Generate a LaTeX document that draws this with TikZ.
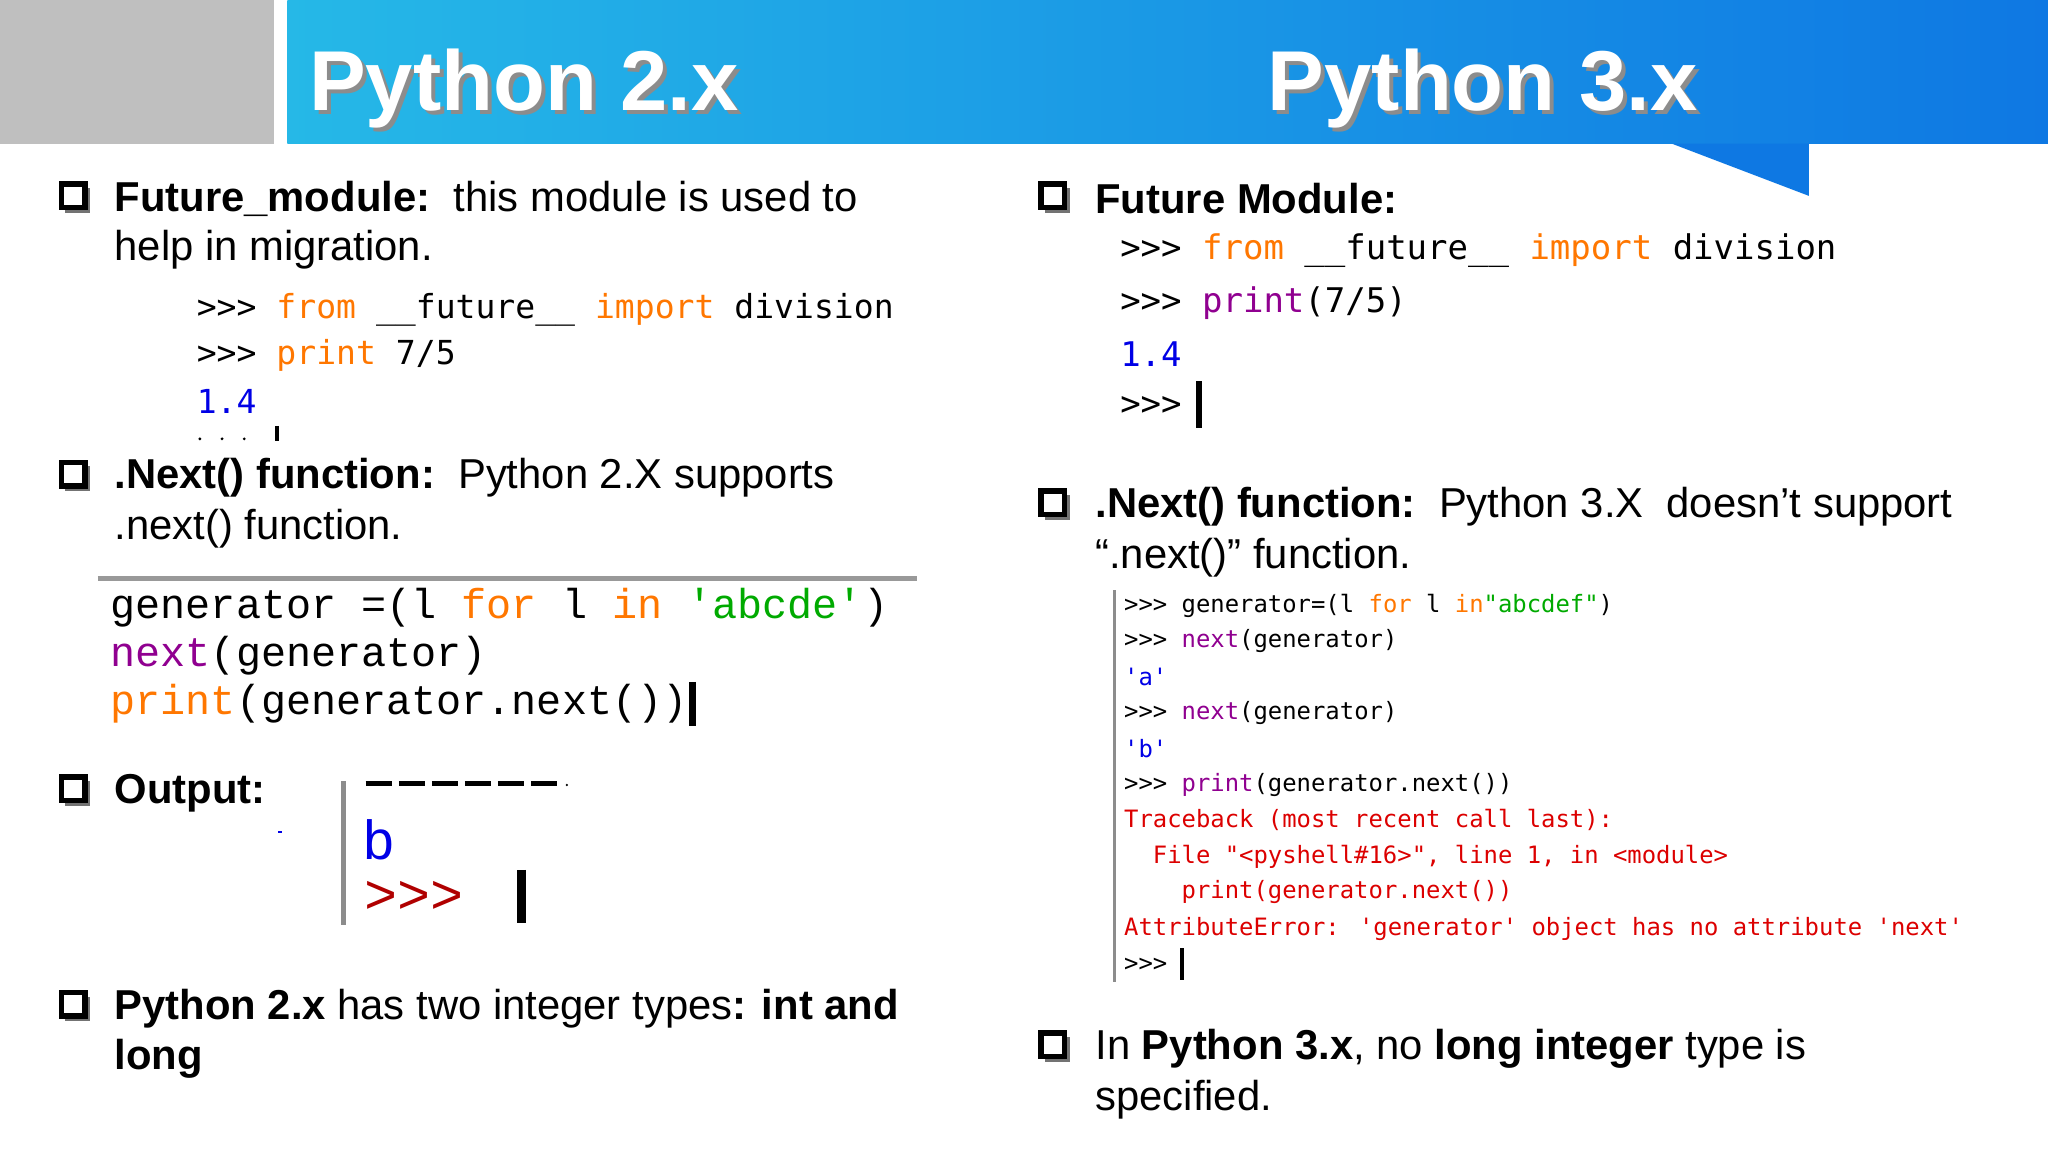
\documentclass[tikz,border=0pt]{standalone}
\usepackage{fontspec}
\setmainfont{Liberation Sans}
\setmonofont{Liberation Mono}
\newfontfamily\dvm{DejaVu Sans Mono}
\begin{document}
\begin{tikzpicture}[x=0.01cm,y=-0.01cm,
  body/.style={anchor=west,inner sep=0,font=\fontsize{9.1pt}{10pt}\selectfont},
  code/.style={anchor=west,inner sep=0,font=\dvm\fontsize{7.2pt}{8pt}\selectfont},
  bigcode/.style={anchor=west,inner sep=0,font=\ttfamily\fontsize{9.1pt}{10pt}\selectfont},
  sm/.style={anchor=west,inner sep=0,font=\dvm\fontsize{5.2pt}{6pt}\selectfont},
  title/.style={anchor=west,inner sep=0,text=white,font=\bfseries\fontsize{18.5pt}{20pt}\selectfont},
  shadowt/.style={anchor=west,inner sep=0,text=black!45,font=\bfseries\fontsize{18.5pt}{20pt}\selectfont},
  vline/.style={draw=black!45,line width=1pt}]
\definecolor{kw}{RGB}{255,119,0}
\definecolor{pr}{RGB}{144,0,144}
\definecolor{ob}{RGB}{0,0,230}
\definecolor{gs}{RGB}{0,170,0}
\definecolor{er}{RGB}{220,0,0}
\definecolor{hb}{RGB}{18,150,220}
\useasboundingbox (0,0) rectangle (1568,882);
\fill[white] (0,0) rectangle (1568,882);
\fill[black!25] (0,0) rectangle (210,110);
\shade[left color=hb!75!cyan!90!white, right color=hb!80!blue] (220,0) rectangle (1568,110);
\fill[hb!80!blue] (1280,110) -- (1385,150) -- (1385,110) -- cycle;
\node[shadowt] at (239,71) {Python 2.x};
\node[title] (t2) at (236,68) {Python 2.x};
\node[shadowt] at (973,71) {Python 3.x};
\node[title] (t3) at (970,68) {Python 3.x};
% bullets
\foreach \n/\x/\y in {b1/57/151,b2/57/364,b3/57/605,b4/57/770,b5/807/151,b6/807/386,b7/807/801}{
  \fill[black!55] (\x-7,\y-7) rectangle (\x+12,\y+12);
  \draw[fill=white,line width=1.2pt] (\x-10,\y-10) rectangle (\x+8,\y+8);
  \coordinate (\n) at (\x,\y);}
% left column
\node[body] (l1) at (87,152) {\textbf{Future\_module:}\ \ this module is used to};
\node[body] (l2) at (87,191) {help in migration.};
\node[code] (c1) at (150,237) {\textcolor{black}{>>>} \textcolor{kw}{from} \_\_future\_\_ \textcolor{kw}{import} division};
\node[code] (c2) at (150,272) {>>> \textcolor{kw}{print} 7/5};
\node[code,text=ob] (c3) at (150,307) {1.4};
\foreach \xx in {153,170,187}{\fill (\xx,336) circle (1.2);}
\draw[line width=1pt] (212,326) -- (212,338);
\node[body] (l3) at (87,366) {\textbf{.Next() function:}\ \ Python 2.X supports};
\node[body] (l4) at (87,405) {.next() function.};
\draw[black!40,line width=1pt] (75,443) -- (702,443);
\node[bigcode] (g1) at (84,465) {generator =(l \textcolor{kw}{for} l \textcolor{kw}{in} \textcolor{gs}{'abcde'})};
\node[bigcode] (g2) at (84,502) {\textcolor{pr}{next}(generator)};
\node[bigcode] (g3) at (84,539) {\textcolor{kw}{print}(generator.next())};
\draw[line width=1.5pt] (530,522) -- (530,556);
\node[body] (l5) at (87,607) {\textbf{Output:}};
\draw[vline] (263,598) -- (263,708);
\draw[line width=1.2pt,dash pattern=on 5.7pt off 1.5pt] (280,600) -- (430,600);
\fill (434,601) circle (1);
\node[anchor=west,inner sep=0,text=ob,font=\ttfamily\fontsize{12pt}{12pt}\selectfont] (o2) at (277,643) {b};
\node[anchor=west,inner sep=0,text=er!80!black,font=\ttfamily\fontsize{12pt}{12pt}\selectfont] (o3) at (278,687) {>>>};
\draw[line width=2pt] (399,666) -- (399,707);
\fill[ob] (213,636) rectangle (216,638);
\node[body] (l6) at (87,772) {\textbf{Python 2.x} has two integer types\textbf{: int and}};
\node[body] (l7) at (87,811) {\textbf{long}};
% right column
\node[body] (r1) at (838,152) {\textbf{Future Module:}};
\node[code,font=\dvm\fontsize{7.4pt}{8pt}\selectfont] (d1) at (857,192) {>>> \textcolor{kw}{from} \_\_future\_\_ \textcolor{kw}{import} division};
\node[code,font=\dvm\fontsize{7.4pt}{8pt}\selectfont] (d2) at (857,232) {>>> \textcolor{pr}{print}(7/5)};
\node[code,text=ob,font=\dvm\fontsize{7.4pt}{8pt}\selectfont] (d3) at (857,271) {1.4};
\node[code,font=\dvm\fontsize{7.4pt}{8pt}\selectfont] (d4) at (857,311) {>>>};
\draw[line width=1.5pt] (918,292) -- (918,328);
\node[body] (r2) at (838,388) {\textbf{.Next() function:}\ \ Python 3.X\ \ doesn’t support};
\node[body] (r3) at (838,427) {“.next()” function.};
\draw[vline,line width=0.6pt] (853,452) -- (853,752);
\node[sm] (s1) at (860,464) {>>> generator=(l \textcolor{kw}{for} l \textcolor{kw}{in}\textcolor{gs}{"abcdef"})};
\node[sm] (s2) at (860,491) {>>> \textcolor{pr}{next}(generator)};
\node[sm,text=ob] (s3) at (860,518) {'a'};
\node[sm] (s4) at (860,546) {>>> \textcolor{pr}{next}(generator)};
\node[sm,text=ob] (s5) at (860,573) {'b'};
\node[sm] (s6) at (860,601) {>>> \textcolor{pr}{print}(generator.next())};
\node[sm,text=er] (s7) at (860,628) {Traceback (most recent call last):};
\node[sm,text=er] (s8) at (860,656) {\ \ File "<pyshell\#16>", line 1, in <module>};
\node[sm,text=er] (s9) at (860,683) {\ \ \ \ print(generator.next())};
\node[sm,text=er] (s10) at (860,711) {AttributeError: 'generator' object has no attribute 'next'};
\node[sm] (s11) at (860,739) {>>>};
\draw[line width=1pt] (905,726) -- (905,750);
\node[body] (r4) at (838,803) {In \textbf{Python 3.x}, no \textbf{long integer} type is};
\node[body] (r5) at (838,842) {specified.};
\end{tikzpicture}
\end{document}
